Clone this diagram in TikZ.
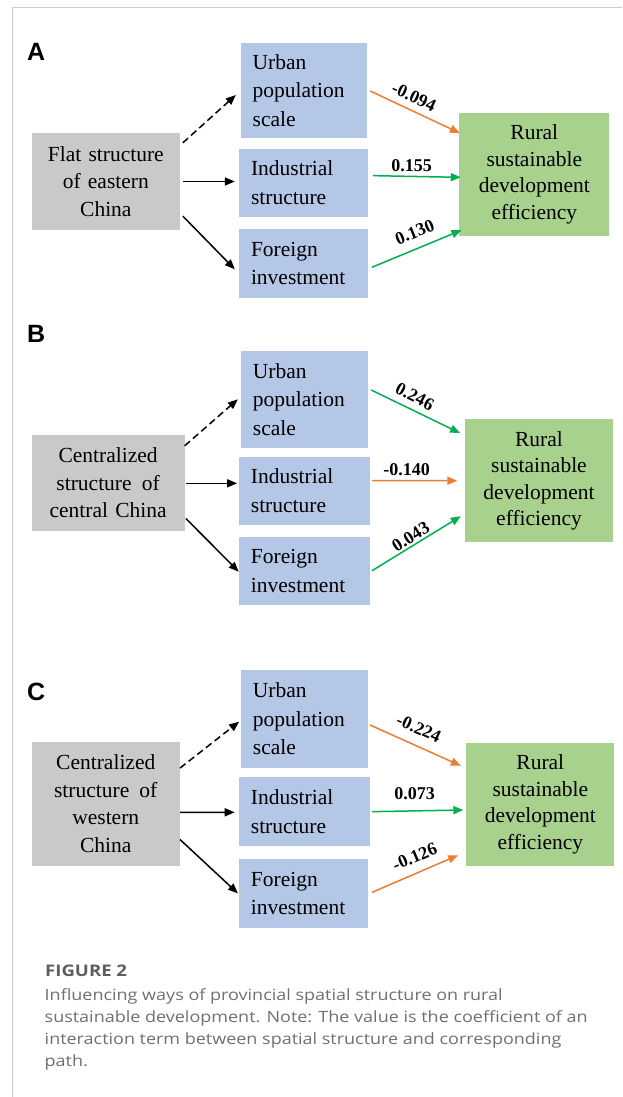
\documentclass[tikz,border=0pt]{standalone}
\usepackage{fontspec}
\setmainfont{Liberation Serif}
\newfontfamily\capfont[FakeStretch=1.16]{Open Sans}
\newfontfamily\panelfont{Liberation Sans}
\usetikzlibrary{arrows.meta}
\definecolor{grayfill}{HTML}{C9C9C9}
\definecolor{bluefill}{HTML}{B4C7E7}
\definecolor{greenfill}{HTML}{A9D18E}
\definecolor{arrorange}{HTML}{ED7D31}
\definecolor{arrgreen}{HTML}{00B050}
\definecolor{framegray}{HTML}{CCCCCC}
\definecolor{captext}{HTML}{707070}
\definecolor{capheadc}{HTML}{5E5E5E}
\begin{document}
\begin{tikzpicture}[x=1pt,y=-1pt,
  srcbox/.style={fill=grayfill, inner sep=0pt, align=center, font=\fontsize{21.5}{27.5}\selectfont},
  midbox/.style={fill=bluefill, inner xsep=12pt, inner ysep=0pt, align=left, font=\fontsize{21.5}{28.5}\selectfont},
  outbox/.style={fill=greenfill, inner sep=0pt, align=center, font=\fontsize{21.5}{26.5}\selectfont},
  conn/.style={line width=1.5pt, -{Triangle[length=10pt,width=8pt]}},
  dashconn/.style={conn, dash pattern=on 7pt off 4pt},
  negconn/.style={conn, draw=arrorange},
  posconn/.style={conn, draw=arrgreen},
  coef/.style={inner sep=0pt, font=\bfseries\fontsize{18}{18}\selectfont},
  panel/.style={inner sep=0pt, anchor=base west, font=\panelfont\bfseries\fontsize{25}{25}\selectfont},
  capline/.style={inner sep=0pt, anchor=base west, text=captext, font=\capfont\fontsize{15.5}{22}\selectfont}
]
\useasboundingbox (0,0) rectangle (622,1097);
\fill[white] (0,0) rectangle (622,1097);
\draw[framegray, line width=1.2pt] (622,7.3) -- (12.7,7.3) -- (12.7,1097);

% ---------------- Panel A ----------------
\node[panel] (pA) at (27,61) {A};
\node[srcbox, text width=148.3pt, minimum height=97pt] (ga) at (105.85,181.5) {Flat structure\\of eastern\\China};
\node[midbox, text width=102pt, minimum height=95.6pt] (ua) at (303.7,90.5) {Urban\\population\\scale};
\node[midbox, text width=105pt, minimum height=67.7pt] (ia) at (303.5,182.85) {Industrial\\structure};
\node[midbox, text width=105pt, minimum height=69pt] (fa) at (303.5,263.5) {Foreign\\investment};
\node[outbox, text width=150pt, minimum height=123.3pt] (ra) at (534.3,174.35) {Rural\\sustainable\\development\\efficiency};

\draw[dashconn] ([shift={(2.7,10)}]ga.north east) -- ([shift={(-4.7,4.5)}]ua.west);
\draw[conn] ([shift={(2.7,0)}]ga.east) -- ([shift={(-4,-1.35)}]ia.west);
\draw[conn] ([shift={(2.7,-14)}]ga.south east) -- ([shift={(-4,5.8)}]fa.west);
\draw[negconn] ([shift={(3.3,0.5)}]ua.east) -- ([shift={(0.7,20.6)}]ra.north west);
\draw[posconn] ([shift={(4.7,-7.2)}]ia.east) -- ([shift={(1.7,3)}]ra.west);
\draw[posconn] ([shift={(3.7,3.8)}]fa.east) -- ([shift={(2.4,-6)}]ra.south west);
\node[coef, rotate=-25] (ka1) at (413.9,96.7) {-0.094};
\node[coef] (ka2) at (411.5,165.7) {0.155};
\node[coef, rotate=22] (ka3) at (414.7,232.3) {0.130};

% ---------------- Panel B ----------------
\node[panel] (pB) at (27,342) {B};
\node[srcbox, text width=152.8pt, minimum height=95.7pt] (gb) at (108.1,482.85) {Centralized\\structure\hspace{3pt} of\\central China};
\node[midbox, text width=103.4pt, minimum height=97pt] (ub) at (304.6,399.2) {Urban\\population\\scale};
\node[midbox, text width=106.9pt, minimum height=68.3pt] (ib) at (304.35,490.85) {Industrial\\structure};
\node[midbox, text width=106.9pt, minimum height=68.3pt] (fb) at (304.35,570.85) {Foreign\\investment};
\node[outbox, text width=148pt, minimum height=123pt] (rb) at (539,480.8) {Rural\\sustainable\\development\\efficiency};

\draw[dashconn] ([shift={(0,11)}]gb.north east) -- ([shift={(-2.9,0.1)}]ub.west);
\draw[conn] ([shift={(1.2,0.45)}]gb.east) -- ([shift={(-1.6,-7.55)}]ib.west);
\draw[conn] ([shift={(1.2,-12.4)}]gb.south east) -- ([shift={(0,0.85)}]fb.west);
\draw[posconn] ([shift={(2.7,-9.2)}]ub.east) -- ([shift={(-4.7,14)}]rb.north west);
\draw[negconn] ([shift={(2,-10.15)}]ib.east) -- ([shift={(-7.5,-0.1)}]rb.west);
\draw[posconn] ([shift={(2,-0.15)}]fb.east) -- ([shift={(-4,-26.3)}]rb.south west);
\node[coef, rotate=-27] (kb1) at (414.7,396.7) {0.246};
\node[coef] (kb2) at (406.7,469.3) {-0.140};
\node[coef, rotate=32] (kb3) at (410.7,536.7) {0.043};

% ---------------- Panel C ----------------
\node[panel] (pC) at (27,700.5) {C};
\node[srcbox, text width=148.1pt, minimum height=124.3pt] (gc) at (105.75,803.85) {Centralized\\structure\hspace{3pt} of\\western\\China};
\node[midbox, text width=103.4pt, minimum height=97.7pt] (uc) at (304.6,718.85) {Urban\\population\\scale};
\node[midbox, text width=106.9pt, minimum height=68.7pt] (ic) at (304.35,811.65) {Industrial\\structure};
\node[midbox, text width=105.4pt, minimum height=68.7pt] (fc) at (303.6,893.35) {Foreign\\investment};
\node[outbox, text width=148pt, minimum height=123.3pt] (rc) at (540.3,804.35) {Rural\\sustainable\\development\\efficiency};

\draw[dashconn] ([shift={(0,26.6)}]gc.north east) -- ([shift={(-1.6,2.85)}]uc.west);
\draw[conn] ([shift={(0,8.45)}]gc.east) -- ([shift={(-4,0.65)}]ic.west);
\draw[conn] ([shift={(0,-26.7)}]gc.south east) -- ([shift={(-0.8,0)}]fc.west);
\draw[negconn] ([shift={(1.5,6.15)}]uc.east) -- ([shift={(-5.2,23.3)}]rc.north west);
\draw[posconn] ([shift={(2,0)}]ic.east) -- ([shift={(-2.8,5.65)}]rc.west);
\draw[negconn] ([shift={(3.5,-1)}]fc.east) -- ([shift={(-8,-11)}]rc.south west);
\node[coef, rotate=-24] (kc1) at (418.7,728.3) {-0.224};
\node[coef] (kc2) at (414.7,794) {0.073};
\node[coef, rotate=23] (kc3) at (414.7,856.7) {-0.126};

% ---------------- Caption ----------------
\node[capline, text=capheadc, font=\capfont\bfseries\fontsize{16}{22}\selectfont] (cap0) at (45,976.7) {FIGURE 2};
\node[capline] (cap1) at (44.5,1000.7) {Influencing ways of provincial spatial structure on rural};
\node[capline] (cap2) at (44.5,1022.7) {sustainable development. Note: The value is the coefficient of an};
\node[capline] (cap3) at (44.5,1044.7) {interaction term between spatial structure and corresponding};
\node[capline] (cap4) at (44.5,1066.7) {path.};
\end{tikzpicture}
\end{document}
